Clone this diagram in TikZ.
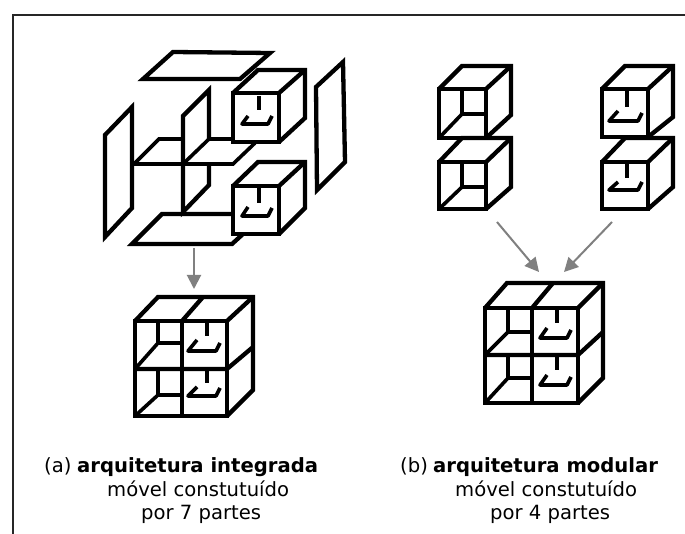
\documentclass[tikz,border=0pt]{standalone}
\usepackage{fontspec}
\setmainfont{DejaVu Sans}
\usetikzlibrary{arrows.meta}
\definecolor{arrowgray}{gray}{0.5}
\tikzset{
  part/.style={draw=black,line width=4.3pt,line join=miter},
  thin part/.style={draw=black,line width=3.6pt},
  flow/.style={draw=arrowgray,line width=2pt,-{Triangle[length=14pt,width=14pt]}},
  cap text/.style={inner sep=0pt,anchor=base west,font=\fontsize{19.6}{22}\selectfont},
}
% #1 x front-left, #2 x front-right, #3 y top, #4 y bottom, #5 x back, #6 y back top, #7 y back bottom, #8 x back-left
\newcommand{\boxshell}[8]{%
  \draw[part] (#1,#3) rectangle (#2,#4);
  \draw[part] (#1,#3) -- (#8,#6) -- (#5,#6) -- (#5,#7) -- (#2,#4);
  \draw[part] (#2,#3) -- (#5,#6);
}
% #1 stem x, #2 stem top, #3 stem bottom, #4 tray top y, #5 tray bottom y, #6 tray top-left x, #7 bottom-left x, #8 bottom-right x
\newcommand{\drawerfront}[8]{%
  \draw[thin part] (#1,#2) -- (#1,#3);
  \draw[thin part,line join=round] (#6,#4) -- (#7,#5) -- (#8,#5) -- ++(4,-8);
}
% #1 x-left, #2 x-inner, #3 x-right, #4 y-top, #5 y-inner, #6 y-bottom
\newcommand{\cellinside}[6]{%
  \draw[thin part] (#2,#4) -- (#2,#5) -- (#3,#5);
  \draw[thin part] (#2,#5) -- (#1,#6);
}
\begin{document}
\begin{tikzpicture}[x=1pt,y=-1pt]
\useasboundingbox (0,0) rectangle (685,534);
\fill[white] (0,0) rectangle (685,534);
% frame
\draw[black!85,line width=2pt] (13,534) -- (13,15) -- (685,15);

% --- (a) exploded ---
\draw[part] (173,52) -- (270,53) -- (240,79) -- (143,79) -- cycle;
\draw[part] (132,107) -- (132,208) -- (105,237) -- (105,135) -- cycle;
\draw[part] (343,62) -- (345,162) -- (317,190) -- (316,87) -- cycle;
\draw[part] (209,139) -- (209,90) -- (183,116) -- (183,212) -- (209,185) -- (209,165);
\draw[thin part] (134,164) -- (233,164) -- (255,143);
\draw[thin part] (134,164) -- (159,139) -- (183,139);
\draw[thin part] (209,139) -- (233,139);
\draw[thin part] (183,164) -- (209,139);
\draw[part] (233,214) -- (162,214) -- (132,244) -- (232,244) -- (243,234);
\boxshell{233}{279}{93}{142}{305}{70}{118}{258}
\drawerfront{259}{96}{110}{116}{124}{248}{242}{268}
\boxshell{233}{279}{186}{234}{305}{162}{208}{258}
\drawerfront{259}{188}{203}{207}{216}{248}{242}{268}

% --- (a) assembled ---
\boxshell{135}{227}{321}{416}{253}{297}{390}{158}
\draw[part] (182,321) -- (182,416);
\draw[part] (135,369) -- (227,369) -- (253,347);
\draw[part] (182,321) -- (203,297);
\cellinside{135}{158}{182}{321}{343}{369}
\cellinside{135}{158}{182}{369}{395}{416}
\drawerfront{207}{323}{336}{340}{351}{197}{188}{216}
\drawerfront{207}{371}{383}{387}{396}{197}{188}{216}

% --- (b) modules ---
\boxshell{439}{486}{89}{138}{511}{66}{115}{462}
\cellinside{439}{462}{486}{89}{114}{138}
\boxshell{439}{486}{162}{209}{511}{138}{187}{462}
\cellinside{439}{462}{486}{162}{187}{209}
\boxshell{602}{648}{89}{137}{673}{66}{117}{625}
\drawerfront{627}{91}{107}{111}{121}{618}{609}{638}
\boxshell{602}{648}{162}{209}{673}{138}{187}{625}
\drawerfront{627}{164}{178}{182}{190}{618}{609}{638}

% --- (b) assembled ---
\boxshell{485}{578}{308}{403}{603}{283}{378}{507}
\draw[part] (532,308) -- (532,403);
\draw[part] (485,355) -- (578,355) -- (603,332);
\draw[part] (532,308) -- (553,283);
\cellinside{485}{508}{532}{308}{332}{355}
\cellinside{485}{508}{532}{355}{378}{403}
\drawerfront{557}{310}{323}{328}{338}{547}{540}{567}
\drawerfront{557}{357}{370}{375}{385}{547}{540}{567}

% arrows
\coordinate (a from) at (194,248);
\coordinate (a to) at (194,289);
\coordinate (b left from) at (497,222);
\coordinate (b left to) at (539,272);
\coordinate (b right from) at (612,222);
\coordinate (b right to) at (564,272);
\draw[flow] (a from) -- (a to);
\draw[flow] (b left from) -- (b left to);
\draw[flow] (b right from) -- (b right to);

% captions
\node[cap text] (alabel) at (44,472) {(a)};
\node[cap text] (atitle) at (77,472) {\bfseries arquitetura integrada};
\node[cap text] (aline2) at (107,496) {móvel constutuído};
\node[cap text] (aline3) at (141,519) {por 7 partes};
\node[cap text] (blabel) at (400,472) {(b)};
\node[cap text] (btitle) at (433,472) {\bfseries arquitetura modular};
\node[cap text] (bline2) at (455,496) {móvel constutuído};
\node[cap text] (bline3) at (490,519) {por 4 partes};
\end{tikzpicture}
\end{document}
